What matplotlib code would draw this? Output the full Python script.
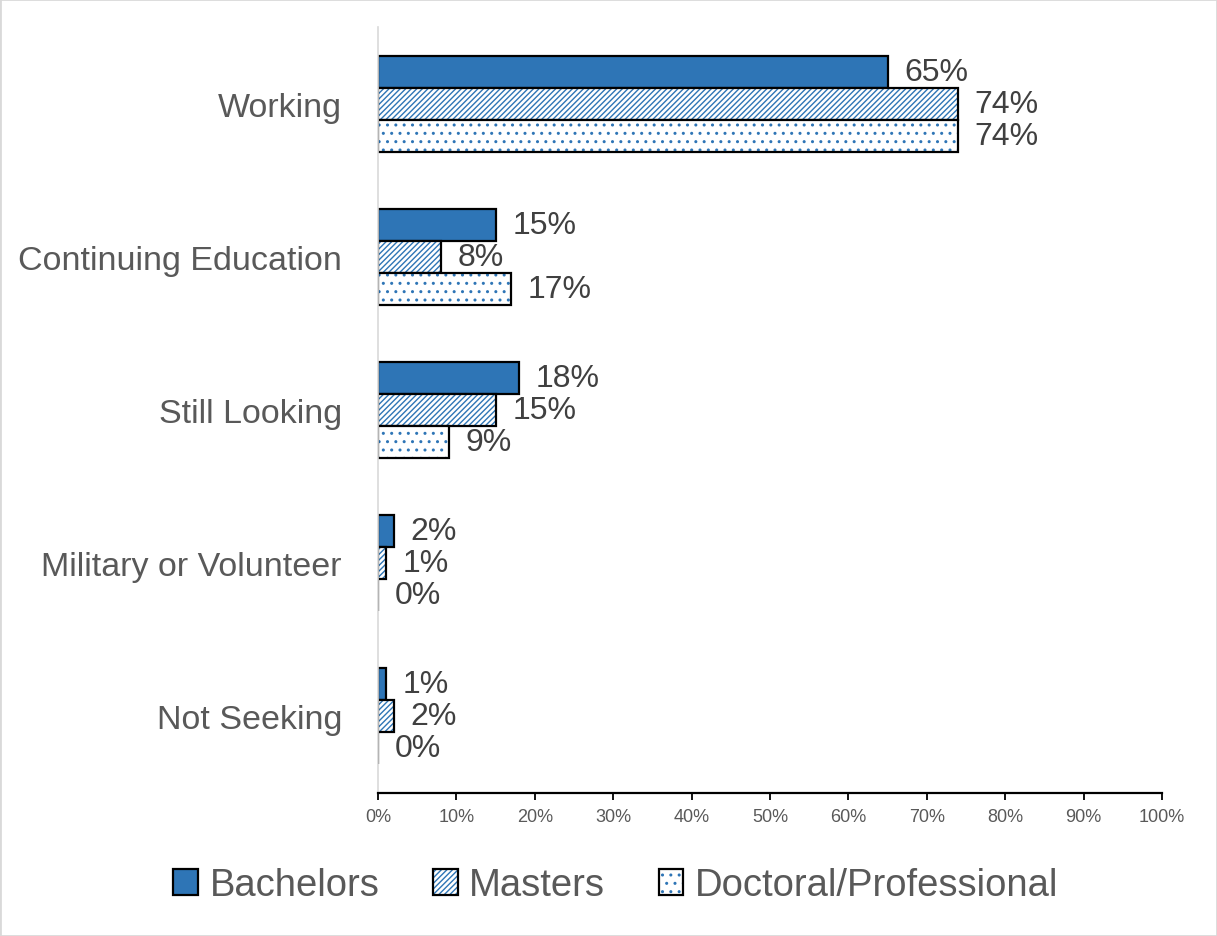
import matplotlib

matplotlib.use("Agg")
import matplotlib.pyplot as plt
from matplotlib.patches import Rectangle, Patch
from matplotlib.legend_handler import HandlerTuple

categories = ["Working", "Continuing Education", "Still Looking",
              "Military or Volunteer", "Not Seeking"]
series = ["Bachelors", "Masters", "Doctoral/Professional"]
bachelors = [65, 15, 18, 2, 1]
masters = [74, 8, 15, 1, 2]
doctoral = [74, 17, 9, 0, 0]
ticks = list(range(0, 101, 10))

BLUE = "#2e75b6"
plt.rcParams["font.family"] = ["Liberation Sans", "DejaVu Sans"]
plt.rcParams["hatch.linewidth"] = 1.0

fig = plt.figure(figsize=(12.17, 9.37), dpi=100)
ax = fig.add_axes([0.3106, 0.1526, 0.6442, 0.8175])

h = 0.209
y = list(range(len(categories)))
styles = [dict(color=BLUE, hatch=None),
          dict(color="white", hatch="//////"),
          dict(color="white", hatch="..")]
handles = []
for i, (vals, st) in enumerate(zip([bachelors, masters, doctoral], styles)):
    pos = [v + (i - 1) * h for v in y]
    if st["hatch"]:
        ax.barh(pos, vals, height=h, color="white", hatch=st["hatch"],
                edgecolor=BLUE, linewidth=0)
    else:
        ax.barh(pos, vals, height=h, color=BLUE, linewidth=0)
    ax.barh(pos, vals, height=h, fill=False, edgecolor="black", linewidth=1.6)
    for p, v in zip(pos, vals):
        ax.annotate(f"{v}%", (v, p), xytext=(12, 0), textcoords="offset points",
                    ha="left", va="center", fontsize=23, color="#404040")
    handles.append((Patch(facecolor=st["color"], hatch=st["hatch"], edgecolor=BLUE, linewidth=0),
                    Patch(fill=False, edgecolor="black", linewidth=1.6)))

ax.set_ylim(len(categories) - 0.5, -0.5)
ax.set_yticks(y)
ax.set_yticklabels(categories, fontsize=24.5, color="#595959")
ax.tick_params(axis="y", length=0, pad=26)
ax.set_xlim(0, 100)
ax.set_xticks(ticks)
ax.set_xticklabels([f"{t}%" for t in ticks], fontsize=13, color="#595959")
ax.tick_params(axis="x", length=5, width=1.3, color="black", pad=6)
for s in ("top", "right"):
    ax.spines[s].set_visible(False)
ax.spines["left"].set_color("#d9d9d9")
ax.spines["left"].set_linewidth(1.2)
ax.spines["bottom"].set_color("black")
ax.spines["bottom"].set_linewidth(1.6)

fig.legend(handles, series, handler_map={tuple: HandlerTuple(ndivide=1)},
           loc="center", bbox_to_anchor=(0.506, 0.054), ncol=3, frameon=False,
           fontsize=27.5, labelcolor="#595959", handlelength=0.65, handleheight=0.65,
           handletextpad=0.3, columnspacing=1.4)

fig.add_artist(Rectangle((0, 0), 1, 1, transform=fig.transFigure, fill=False,
                         edgecolor="#d9d9d9", linewidth=2))
fig.savefig("out.png", dpi=100)
